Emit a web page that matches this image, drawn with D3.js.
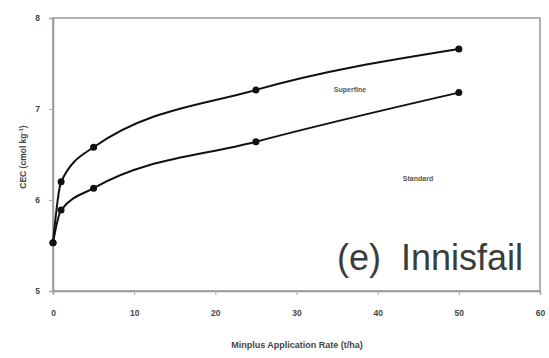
<!DOCTYPE html>
<html><head><meta charset="utf-8">
<script src="https://cdn.jsdelivr.net/npm/d3@7"></script>
<style>body{margin:0;background:#fff}svg{display:block}text{white-space:pre}</style>
</head><body>
<svg id="c" width="549" height="358"></svg>
<script>
const rates = [0, 1, 5, 25, 50];
const superfine = [5.53, 6.2, 6.58, 7.21, 7.66];
const standard = [5.53, 5.89, 6.13, 6.64, 7.18];
const xTicks = [0, 10, 20, 30, 40, 50, 60];
const yTicks = [5, 6, 7, 8];

const svg = d3.select("#c");
const x = d3.scaleLinear().domain([0, 60]).range([53, 540]);
const y = d3.scaleLinear().domain([5, 8]).range([291, 18]);

// frame
svg.append("rect").attr("x", 53).attr("y", 18).attr("width", 487).attr("height", 273)
  .attr("fill", "none").attr("stroke", "#999").attr("stroke-width", 1.5);

const xa = svg.append("g").attr("transform", "translate(0,291)")
  .call(d3.axisBottom(x).tickValues(xTicks).tickSize(4).tickPadding(15));
const ya = svg.append("g").attr("transform", "translate(53,0)")
  .call(d3.axisLeft(y).tickValues(yTicks).tickSize(4).tickPadding(9).tickFormat(d3.format("d")));
[xa, ya].forEach(g => {
  g.select(".domain").attr("stroke", "#999").attr("stroke-width", 1.5);
  g.selectAll(".tick line").attr("stroke", "#aaa");
  g.selectAll("text").attr("font-family", "Liberation Sans, Arial, sans-serif")
    .attr("font-size", 8.5).attr("font-weight", "bold").attr("fill", "#444");
});

const line = d3.line().x((d, i) => x(rates[i])).y(d => y(d)).curve(d3.curveMonotoneX);
[superfine, standard].forEach(s => {
  svg.append("path").attr("d", line(s)).attr("fill", "none").attr("stroke", "#111").attr("stroke-width", 2);
  svg.selectAll(null).data(s).enter().append("circle")
    .attr("cx", (d, i) => x(rates[i])).attr("cy", d => y(d)).attr("r", 3.5).attr("fill", "#111");
});

const small = {"font-family": "Liberation Sans, Arial, sans-serif", "font-size": 7, "font-weight": "bold", "fill": "#555"};
function txt(t, px, py, attrs, anchor) {
  const e = svg.append("text").attr("x", px).attr("y", py).attr("text-anchor", anchor || "middle").text(t);
  Object.entries(attrs).forEach(([k, v]) => e.attr(k, v));
  return e;
}
txt("Superfine", 350, 92, small);
txt("Standard", 418, 181, small);
txt("(e)  Innisfail", 523, 270, {"font-family": "Liberation Sans, Arial, sans-serif", "font-size": 36, "fill": "#3a3d3a"}, "end");
txt("Minplus Application Rate (t/ha)", 297, 348, {"font-family": "Liberation Sans, Arial, sans-serif", "font-size": 9, "font-weight": "bold", "fill": "#444"});
const yl = svg.append("text").attr("transform", "translate(26,157) rotate(-90)").attr("text-anchor", "middle")
  .attr("font-family", "Liberation Sans, Arial, sans-serif").attr("font-size", 8.5).attr("font-weight", "bold").attr("fill", "#444");
yl.append("tspan").text("CEC (cmol kg");
yl.append("tspan").attr("dy", -3).attr("font-size", 6).text("-1");
yl.append("tspan").attr("dy", 3).text(")");
</script>
</body></html>
